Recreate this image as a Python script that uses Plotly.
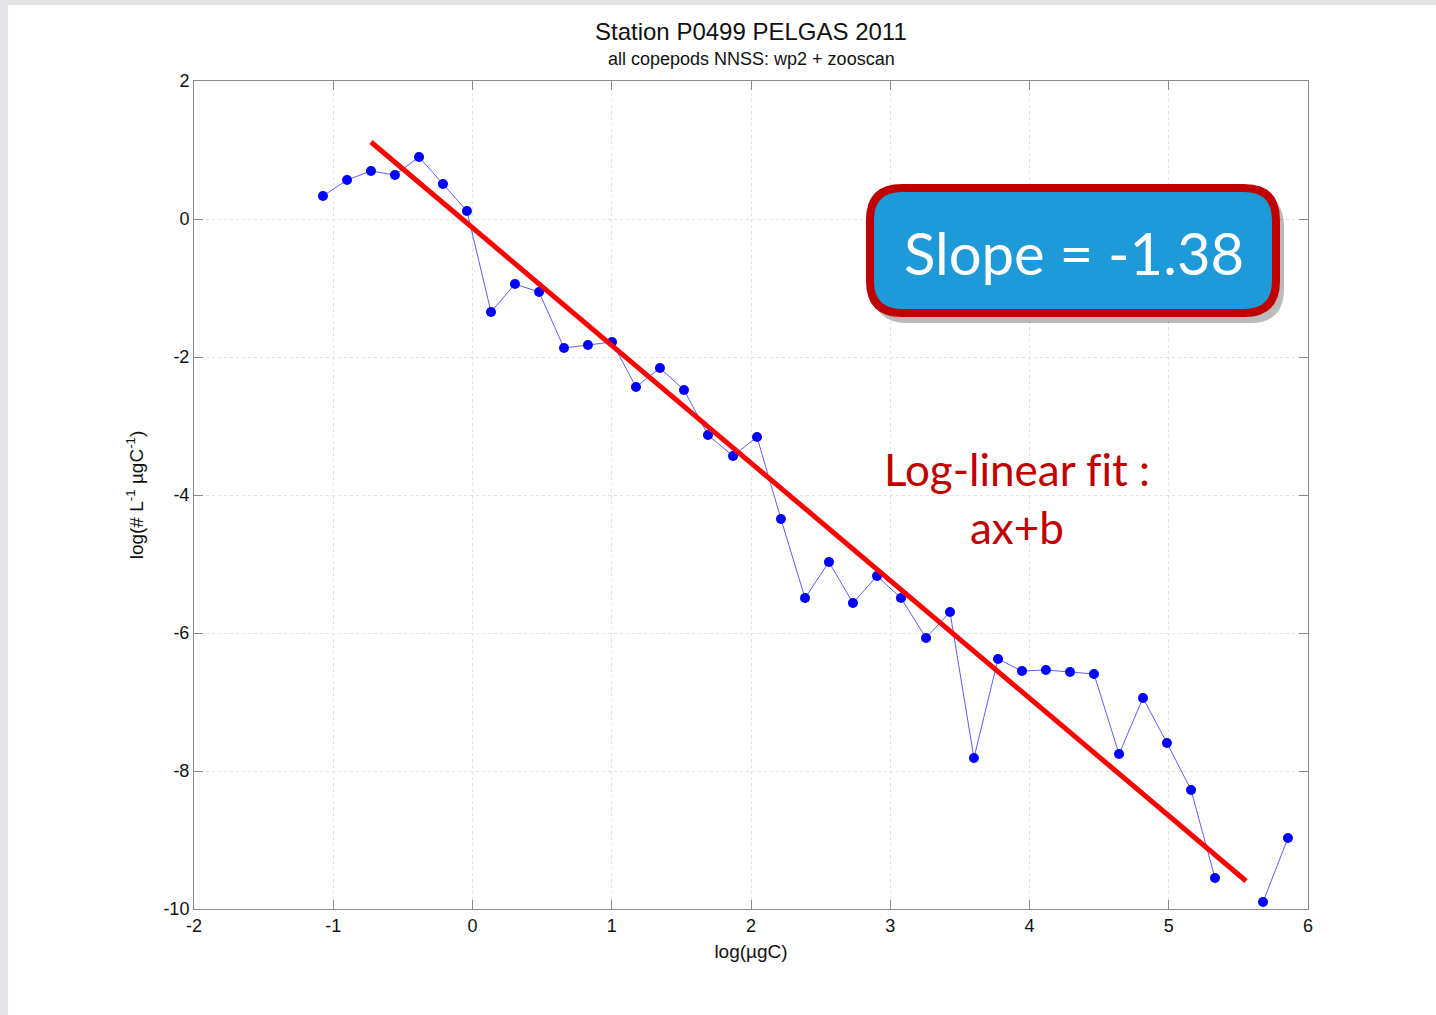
import plotly.graph_objects as go

# ---- data ----
log_mass = [-1.074, -0.901, -0.729, -0.557, -0.384, -0.212, -0.040, 0.133, 0.305, 0.478,
            0.657, 0.829, 1.002, 1.174, 1.346, 1.519, 1.691, 1.871, 2.043, 2.215,
            2.388, 2.560, 2.732, 2.905, 3.077, 3.257, 3.429, 3.601, 3.774, 3.946,
            4.118, 4.291, 4.463, 4.643, 4.815, 4.987, 5.160, 5.332, 5.505, 5.677, 5.856]
log_abund = [0.333, 0.565, 0.696, 0.638, 0.899, 0.507, 0.116, -1.348, -0.942, -1.058,
             -1.870, -1.826, -1.783, -2.435, -2.159, -2.478, -3.130, -3.435, -3.159, -4.348,
             -5.493, -4.971, -5.565, -5.174, -5.493, -6.072, -5.696, -7.812, -6.377, -6.551,
             -6.536, -6.565, -6.594, -7.754, -6.942, -7.594, -8.275, -9.551, None, -9.899, -8.971]
fit_x = [-0.729, 5.555]
fit_y = [1.116, -9.594]
x_ticks = [-2, -1, 0, 1, 2, 3, 4, 5, 6]
x_tick_text = ["-2", "-1", "0", "1", "2", "3", "4", "5", "6"]
y_ticks = [-10, -8, -6, -4, -2, 0, 2]
y_tick_text = ["-10", "-8", "-6", "-4", "-2", "0", "2"]

W, H = 1436, 1015
L, R, T, B = 194, 1308, 81, 909  # plot area pixels


def px(x):
    return (x - L) / (R - L)


def py(y):
    return (B - y) / (B - T)


def rounded_rect(x0, y0, x1, y1, r):
    def P(x, y):
        return f"{px(x):.5f},{py(y):.5f}"
    return (f"M {P(x0 + r, y0)} L {P(x1 - r, y0)} Q {P(x1, y0)} {P(x1, y0 + r)} "
            f"L {P(x1, y1 - r)} Q {P(x1, y1)} {P(x1 - r, y1)} "
            f"L {P(x0 + r, y1)} Q {P(x0, y1)} {P(x0, y1 - r)} "
            f"L {P(x0, y0 + r)} Q {P(x0, y0)} {P(x0 + r, y0)} Z")


fig = go.Figure()
fig.add_trace(go.Scatter(
    x=log_mass, y=log_abund, mode="lines+markers",
    line=dict(color="rgba(40,40,255,0.75)", width=1),
    marker=dict(color="#0000ff", size=10),
    connectgaps=False, showlegend=False, cliponaxis=False))
fig.add_trace(go.Scatter(
    x=fit_x, y=fit_y, mode="lines",
    line=dict(color="#ff0000", width=5), showlegend=False))

FONT = "Liberation Sans, Arial"
axis_common = dict(
    showgrid=True, gridcolor="#e2e2e2", griddash="dot", gridwidth=1,
    zeroline=False, showline=True, linecolor="#8a8a8a", linewidth=1,
    mirror="ticks", ticks="inside", ticklen=9, tickcolor="#8a8a8a",
    tickfont=dict(family=FONT, size=18, color="#111"),
)
fig.update_xaxes(range=[-2, 6], tickvals=x_ticks, ticktext=x_tick_text, **axis_common,
                 title=dict(text="log(µgC)", font=dict(family=FONT, size=19, color="#111"), standoff=10))
fig.update_yaxes(range=[-10, 2], tickvals=y_ticks, ticktext=y_tick_text, **axis_common,
                 title=dict(text="log(# L<sup>-1</sup> µgC<sup>-1</sup>)",
                            font=dict(family=FONT, size=19, color="#111"), standoff=14))

shapes = [
    dict(type="rect", xref="paper", yref="paper", x0=px(0), x1=px(W), y0=py(0), y1=py(5),
         fillcolor="#e3e3e6", line_width=0, layer="below"),
    dict(type="rect", xref="paper", yref="paper", x0=px(0), x1=px(8), y0=py(0), y1=py(H),
         fillcolor="#e6e6e8", line_width=0, layer="below"),
    dict(type="path", xref="paper", yref="paper", path=rounded_rect(873, 193, 1284, 323, 34),
         fillcolor="rgba(60,60,60,0.35)", line=dict(width=0)),
    dict(type="path", xref="paper", yref="paper", path=rounded_rect(870, 188, 1276, 313, 32),
         fillcolor="#1f9ad8", line=dict(color="#c00000", width=8)),
]
fig.update_layout(shapes=shapes)


def ann(text, x, y, size, color, family):
    return dict(text=text, x=px(x), y=py(y), xref="paper", yref="paper",
                xanchor="center", yanchor="middle", showarrow=False,
                font=dict(family=family, size=size, color=color))


annotations = [
    ann("Station P0499 PELGAS 2011", 751, 32, 24, "#111", FONT),
    ann("all copepods NNSS: wp2 + zooscan", 751, 59, 18, "#111", FONT),
    ann("Slope = -1.38", 1074, 252, 58, "white", "Lato, Open Sans"),
    ann("Log-linear f\u200cit :", 1017, 469, 44, "#c00000", "Lato, Open Sans"),
    ann("ax+b", 1017, 527, 44, "#c00000", "Lato, Open Sans"),
]
fig.update_layout(
    annotations=annotations,
    width=W, height=H,
    margin=dict(l=L, r=W - R, t=T, b=H - B),
    paper_bgcolor="white", plot_bgcolor="white",
)
fig.write_html("out.html")
